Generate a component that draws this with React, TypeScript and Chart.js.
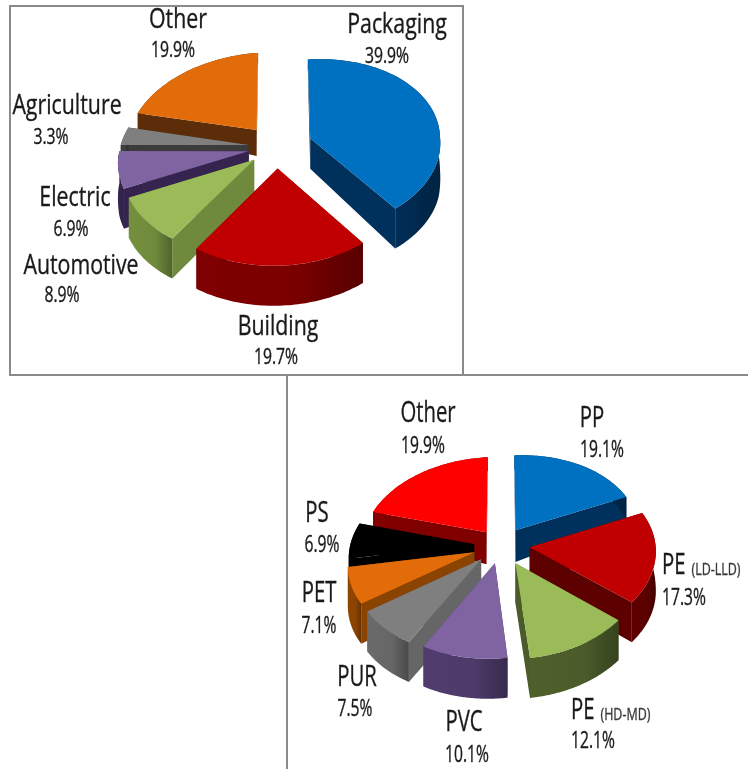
import React, { useEffect, useRef } from "react";
import { Chart, registerables } from "chart.js";

Chart.register(...registerables);

// ---- data ----
const sectorNames = ["Packaging", "Building", "Automotive", "Electric", "Agriculture", "Other"];
const sectorValues = [39.9, 19.7, 8.9, 6.9, 3.3, 19.9];
const polymerNames = ["PP", "PE", "PE", "PVC", "PUR", "PET", "PS", "Other"];
const polymerSubNames = ["", "(LD-LLD)", "(HD-MD)", "", "", "", "", ""];
const polymerValues = [19.1, 17.3, 12.1, 10.1, 7.5, 7.1, 6.9, 19.9];

// ---- style ----
const sectorTop = ["#0070c0", "#c00000", "#9bbb59", "#8064a2", "#7f7f7f", "#e36c0a"];
const sectorSide = ["#00305c", "#7a0000", "#6f8a3c", "#35244f", "#3c3c3c", "#5c2d08"];
const sectorOffset = [35, 32, 29, 29, 29, 35];
const polymerTop = ["#0070c0", "#c00000", "#9bbb59", "#8064a2", "#7f7f7f", "#e36c0a", "#000000", "#ff0000"];
const polymerSide = ["#00305c", "#5c0000", "#4b5c2a", "#4e3a6b", "#666666", "#8a4300", "#000000", "#800000"];
const polymerOffset = [26, 29, 31, 27, 28, 28, 27, 25];

// [name x, name y, value centre x, value y]
const sectorLabelPos = [
  [397, 25, 387, 57],
  [278, 327, 276, 358],
  [81, 266, 62, 296],
  [75, 198, 71, 230],
  [67, 106, 51, 138],
  [178, 20, 173, 51],
];
const polymerLabelPos = [
  [592, 43, 602, 74],
  [662, 190, 684, 222],
  [571, 335, 593, 365],
  [464, 347, 467, 379],
  [357, 302, 355, 333],
  [319, 218, 319, 250],
  [317, 138, 322, 169],
  [428, 38, 423, 70],
];

function hex(c: string, f: number) {
  const n = parseInt(c.slice(1), 16);
  const m = (v: number) => Math.round(Math.min(255, v * f));
  return `rgb(${m((n >> 16) & 255)},${m((n >> 8) & 255)},${m(n & 255)})`;
}

const TEXT = "#1a1a1a";
const FONT = '"Open Sans"';

function drawText(ctx: CanvasRenderingContext2D, s: string, x: number, y: number, size: number, sx: number, align: CanvasTextAlign, color = TEXT) {
  ctx.save();
  ctx.translate(x, y);
  ctx.scale(sx, 1);
  ctx.font = `${size}px ${FONT}`;
  ctx.fillStyle = color;
  ctx.strokeStyle = color;
  ctx.lineWidth = 0.35;
  ctx.textAlign = align;
  ctx.textBaseline = "middle";
  ctx.fillText(s, 0, 0);
  ctx.strokeText(s, 0, 0);
  ctx.restore();
}

const pie3d = {
  id: "pie3d",
  beforeDatasetsDraw(chart: any, _a: any, opts: any) {
    const ctx: CanvasRenderingContext2D = chart.ctx;
    const meta = chart.getDatasetMeta(0);
    const ds = chart.data.datasets[0];
    const { squash, persp, shear, frontShift, depth0, depthSlope, depthMin, depthMax } = opts;
    const slices = meta.data.map((el: any, i: number) => {
      const p = el.getProps(["x", "y", "startAngle", "endAngle", "outerRadius"]);
      const off = el.options.offset || 0;
      const mid = (p.startAngle + p.endAngle) / 2;
      const ox = Math.cos(mid) * off;
      const oy = Math.sin(mid) * off;
      const pts: number[][] = [[ox, oy]];
      const N = 60;
      for (let j = 0; j <= N; j++) {
        const a = p.startAngle + ((p.endAngle - p.startAngle) * j) / N;
        pts.push([ox + Math.cos(a) * p.outerRadius, oy + Math.sin(a) * p.outerRadius]);
      }
      const scr = (q: number[], low: boolean) => {
        const k = 1 / (1 - persp * q[1]);
        const d = low ? Math.max(depthMin, Math.min(depthMax, depth0 + depthSlope * q[1])) : 0;
        return [p.x + q[0] * k + frontShift * Math.max(q[1], 0), p.y + squash * q[1] * k - shear * q[0] + d];
      };
      return {
        i,
        pts,
        scr,
        order: Math.sin(mid) * off + Math.sin(mid) * p.outerRadius * 0.6,
        top: el.options.backgroundColor,
        side: ds.sideColor[i],
      };
    });
    slices.sort((a: any, b: any) => a.order - b.order);
    for (const s of slices) {
      const n = s.pts.length;
      const poly = (list: number[][], fill: any) => {
        ctx.beginPath();
        list.forEach((w, j) => (j === 0 ? ctx.moveTo(w[0], w[1]) : ctx.lineTo(w[0], w[1])));
        ctx.closePath();
        ctx.fillStyle = fill;
        ctx.fill();
      };
      const wall = (u: number[], v: number[]) => [s.scr(u, false), s.scr(v, false), s.scr(v, true), s.scr(u, true)];
      poly(wall(s.pts[0], s.pts[1]), s.side);
      poly(wall(s.pts[n - 1], s.pts[0]), s.side);
      const arc = s.pts.slice(1);
      const up = arc.map((q: number[]) => s.scr(q, false));
      const low = arc.map((q: number[]) => s.scr(q, true)).reverse();
      const xs = up.map((w: number[]) => w[0]);
      const g = ctx.createLinearGradient(Math.min(...xs), 0, Math.max(...xs), 0);
      g.addColorStop(0, hex(s.side, 1.04));
      g.addColorStop(0.6, s.side);
      g.addColorStop(1, hex(s.side, 0.72));
      poly([...up, ...low], g);
      poly(s.pts.map((q: number[]) => s.scr(q, false)), s.top);
    }
    return false;
  },
  afterDraw(chart: any, _a: any, opts: any) {
    const ctx: CanvasRenderingContext2D = chart.ctx;
    const names: string[] = chart.data.labels;
    const vals: number[] = chart.data.datasets[0].data;
    const subs: string[] = opts.subNames;
    const { nameSize, nameScale, valueSize, valueScale } = opts;
    opts.labelPos.forEach((pos: number[], i: number) => {
      const sub = subs ? subs[i] : "";
      if (sub) {
        drawText(ctx, names[i], pos[0], pos[1], nameSize, nameScale, "left");
        ctx.font = `${nameSize}px ${FONT}`;
        const w = ctx.measureText(names[i]).width * nameScale;
        drawText(ctx, sub, pos[0] + w + 6, pos[1] + 4, 16, 0.78, "left", "#3a3a3a");
      } else {
        drawText(ctx, names[i], pos[0], pos[1], nameSize, nameScale, "center");
      }
      drawText(ctx, `${vals[i]}%`, pos[2], pos[3], valueSize, valueScale, "center");
    });
  },
};

function usePie(
  ref: React.RefObject<HTMLCanvasElement | null>,
  names: string[],
  values: number[],
  top: string[],
  side: string[],
  offset: number[],
  radius: number,
  padding: any,
  pieOpts: any
) {
  useEffect(() => {
    const chart = new Chart(ref.current as HTMLCanvasElement, {
      type: "pie",
      data: {
        labels: names,
        datasets: [
          {
            data: values,
            backgroundColor: top,
            sideColor: side,
            offset,
            borderWidth: 0,
          } as any,
        ],
      },
      options: {
        animation: false,
        responsive: false,
        radius,
        layout: { padding },
        events: [],
        plugins: { legend: { display: false }, tooltip: { enabled: false }, pie3d: pieOpts } as any,
      },
      plugins: [pie3d],
    });
    return () => chart.destroy();
  }, []);
}

export default function App() {
  const a = useRef<HTMLCanvasElement>(null);
  const b = useRef<HTMLCanvasElement>(null);
  // top canvas 748x376, pie centre (277,147)
  usePie(a, sectorNames, sectorValues, sectorTop, sectorSide, sectorOffset, 130, { left: 0, right: 194, top: 0, bottom: 82 }, {
    squash: 0.66, persp: 0.0006, shear: 0.06, frontShift: 0.05, depth0: 33, depthSlope: 0.25, depthMin: 10, depthMax: 40,
    labelPos: sectorLabelPos, nameSize: 27, nameScale: 0.79, valueSize: 21, valueScale: 0.75,
  });
  // bottom canvas 748x393 at y=376, pie centre (501,545) -> local (501,169)
  usePie(b, polymerNames, polymerValues, polymerTop, polymerSide, polymerOffset, 125, { left: 254, right: 0, top: 0, bottom: 55 }, {
    squash: 0.67, persp: 0.0007, shear: 0.04, frontShift: 0, depth0: 36, depthSlope: 0.2, depthMin: 14, depthMax: 40,
    labelPos: polymerLabelPos, subNames: polymerSubNames, nameSize: 29, nameScale: 0.7, valueSize: 23, valueScale: 0.68,
  });
  const line = "#8a8a8a";
  return (
    <div style={{ position: "absolute", left: 0, top: 0, width: 748, height: 769, overflow: "hidden", background: "#fff" }}>
      <canvas ref={a} width={748} height={376} style={{ position: "absolute", left: 0, top: 0, filter: "blur(0.4px)" }} />
      <canvas ref={b} width={748} height={393} style={{ position: "absolute", left: 0, top: 376, filter: "blur(0.4px)" }} />
      <div style={{ position: "absolute", left: 9, top: 5, width: 455, height: 371, border: `2px solid ${line}`, boxSizing: "border-box" }} />
      <div style={{ position: "absolute", left: 463, top: 374, width: 285, height: 2, background: line }} />
      <div style={{ position: "absolute", left: 286, top: 375, width: 2, height: 394, background: line }} />
    </div>
  );
}
